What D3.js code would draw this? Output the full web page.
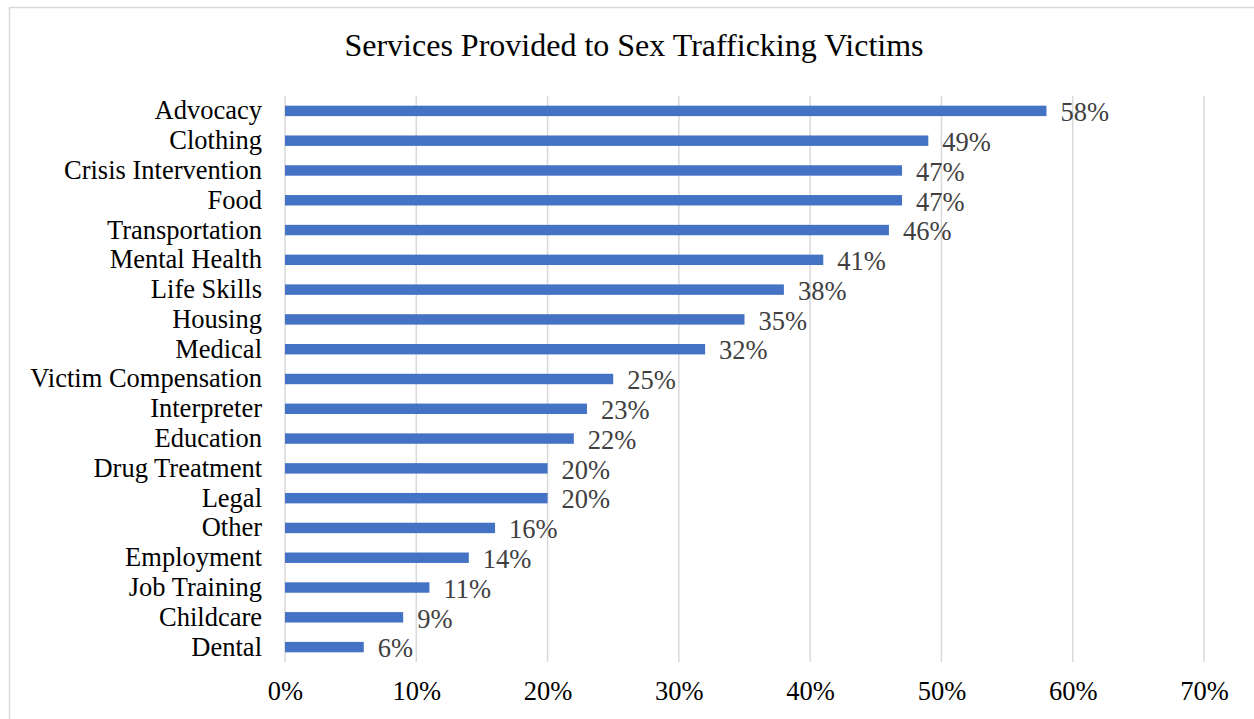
<!DOCTYPE html>
<html>
<head>
<meta charset="utf-8">
<script src="https://cdn.jsdelivr.net/npm/d3@7"></script>
<style>
  html, body { margin: 0; padding: 0; background: #fff; }
  svg { display: block; }
  text { font-family: "Liberation Serif", "Times New Roman", serif; }
</style>
</head>
<body>
<svg id="chart" width="1254" height="719"></svg>
<script>
const title = "Services Provided to Sex Trafficking Victims";
const categories = ["Advocacy","Clothing","Crisis Intervention","Food","Transportation","Mental Health","Life Skills","Housing","Medical","Victim Compensation","Interpreter","Education","Drug Treatment","Legal","Other","Employment","Job Training","Childcare","Dental"];
const values = [58,49,47,47,46,41,38,35,32,25,23,22,20,20,16,14,11,9,6];
const ticks = [0,10,20,30,40,50,60,70];

const svg = d3.select("#chart");
const FS = 26.5;

// chart frame
svg.append("rect").attr("x", 9.5).attr("y", 7.5).attr("width", 1260).attr("height", 730)
  .attr("fill", "#fff").attr("stroke", "#d9d9d9").attr("stroke-width", 1.5);

const x = d3.scaleLinear().domain([0, 70]).range([285, 1204]);
const y = d3.scaleBand().domain(categories).range([96, 662]).paddingInner(0.65).paddingOuter(0.325);

// gridlines
svg.append("g").selectAll("line").data(ticks).join("line")
  .attr("x1", d => x(d)).attr("x2", d => x(d))
  .attr("y1", 96).attr("y2", 662)
  .attr("stroke", "#d9d9d9").attr("stroke-width", 1.5);

// title
svg.append("text").attr("x", 634).attr("y", 56).attr("text-anchor", "middle")
  .attr("font-size", 32).attr("fill", "#000").text(title);

// bars
svg.append("g").selectAll("rect").data(values).join("rect")
  .attr("x", x(0))
  .attr("y", (d, i) => y(categories[i]))
  .attr("width", d => x(d) - x(0))
  .attr("height", y.bandwidth())
  .attr("fill", "#4472c4");

// value labels
svg.append("g").selectAll("text").data(values).join("text")
  .attr("x", d => x(d) + 14)
  .attr("y", (d, i) => y(categories[i]) + y.bandwidth() / 2 + 1)
  .attr("dy", "0.35em")
  .attr("font-size", FS).attr("fill", "#404040")
  .text(d => d + "%");

// category axis labels
const yAxis = d3.axisLeft(y).tickSize(0).tickPadding(23);
const gy = svg.append("g").attr("transform", `translate(${x(0)},0)`).call(yAxis);
gy.select(".domain").remove();
gy.selectAll("text").attr("font-size", FS).attr("fill", "#000")
  .attr("font-family", "'Liberation Serif', 'Times New Roman', serif");

// x axis labels
const xAxis = d3.axisBottom(x).tickValues(ticks).tickFormat(d => d + "%").tickSize(0).tickPadding(19);
const gx = svg.append("g").attr("transform", `translate(0,662)`).call(xAxis);
gx.select(".domain").remove();
gx.selectAll("text").attr("font-size", FS).attr("fill", "#000")
  .attr("font-family", "'Liberation Serif', 'Times New Roman', serif");
</script>
</body>
</html>
